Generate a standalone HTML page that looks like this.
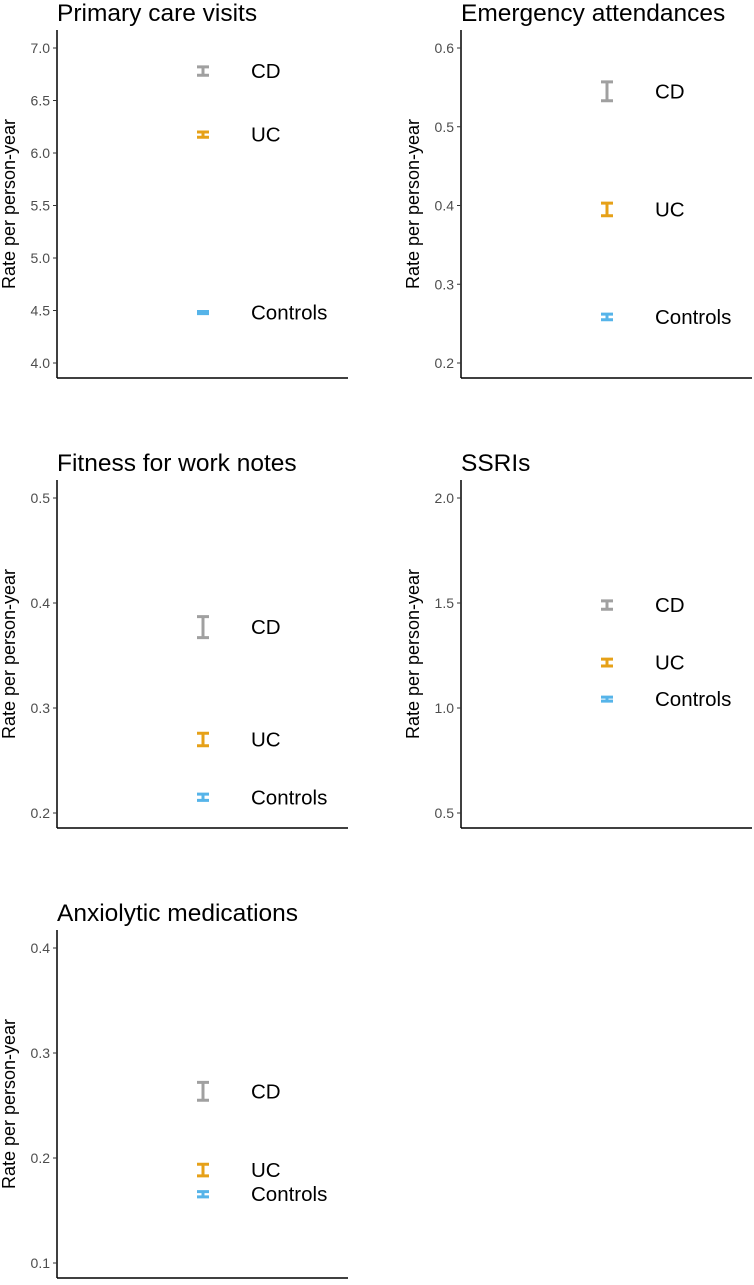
<!DOCTYPE html>
<html><head><meta charset="utf-8"><style>
body{margin:0;background:#fff;width:754px;height:1280px;overflow:hidden}
svg{font-family:"Liberation Sans",Arial,sans-serif}
</style></head><body>
<svg id="c" width="754" height="1280"></svg>
<script>
const titles=["Primary care visits","Emergency attendances","Fitness for work notes","SSRIs","Anxiolytic medications"];
const groups=["CD","UC","Controls"];
const lows=[[6.74,6.15,4.47],[0.533,0.387,0.255],[0.367,0.264,0.212],[1.47,1.20,1.033],[0.255,0.183,0.163]];
const highs=[[6.82,6.20,4.49],[0.557,0.403,0.262],[0.387,0.276,0.218],[1.51,1.233,1.052],[0.272,0.194,0.168]];
const ticks=[["4.0","4.5","5.0","5.5","6.0","6.5","7.0"],["0.2","0.3","0.4","0.5","0.6"],["0.2","0.3","0.4","0.5"],["0.5","1.0","1.5","2.0"],["0.1","0.2","0.3","0.4"]];
const colors=["#a0a0a0","#e6a118","#56b4e9"];
const NS="http://www.w3.org/2000/svg";
const svg=document.getElementById('c');
function mk(t,a,txt){const e=document.createElementNS(NS,t);for(const k in a)e.setAttribute(k,a[k]);if(txt!==undefined)e.textContent=txt;svg.appendChild(e);return e;}
titles.forEach((title,p)=>{
  const col=p%2,row=Math.floor(p/2);
  const ax=col?461:57, oy=row*450;
  const tmin=+ticks[p][0], tmax=+ticks[p][ticks[p].length-1];
  const yTop=48+oy, yBot=363+oy;
  const y=v=>yBot-(v-tmin)/(tmax-tmin)*(yBot-yTop);
  let e=mk('text',{x:ax,y:oy+21,'font-size':24.5,fill:'#000'},title);
  
  
  e=mk('line',{x1:ax,y1:oy+30,x2:ax,y2:oy+378,stroke:'#000','stroke-width':1.5});
  
  
  e=mk('line',{x1:ax,y1:oy+378,x2:ax+291,y2:oy+378,stroke:'#000','stroke-width':1.5});
  
  
  ticks[p].forEach(t=>{
    const yy=y(+t);
    e=mk('line',{x1:ax-4,y1:yy,x2:ax,y2:yy,stroke:'#333','stroke-width':1});
    
    
    e=mk('text',{x:ax-7,y:yy+5,'font-size':14,fill:'#4d4d4d','text-anchor':'end'},t);
    
    
  });
  const cy=oy+204, tx=col?419:15;
  e=mk('text',{x:tx,y:cy,'font-size':18,fill:'#000','text-anchor':'middle',transform:`rotate(-90 ${tx} ${cy})`},'Rate per person-year');
  
  
  const bx=ax+146;
  groups.forEach((g,i)=>{
    const y1=y(highs[p][i]),y2=y(lows[p][i]),c=colors[i];
    e=mk('path',{d:`M${bx-6},${y1}H${bx+6}M${bx},${y1}V${y2}M${bx-6},${y2}H${bx+6}`,stroke:c,'stroke-width':3,fill:'none'});
    
    
    e=mk('text',{x:ax+194,y:(y1+y2)/2+7,'font-size':20.5,fill:'#000'},g);
    
    
  });
});
</script>
</body></html>
